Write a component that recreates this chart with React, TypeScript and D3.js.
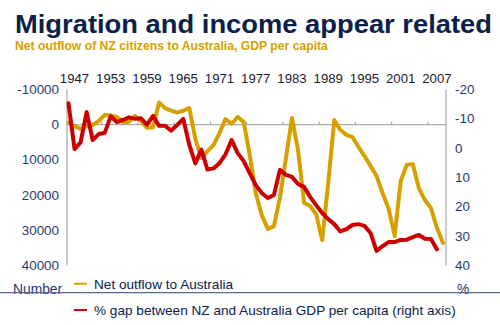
import React from "react";
import * as d3 from "d3";

const years = [1946,1947,1948,1949,1950,1951,1952,1953,1954,1955,1956,1957,1958,1959,1960,1961,1962,1963,1964,1965,1966,1967,1968,1969,1970,1971,1972,1973,1974,1975,1976,1977,1978,1979,1980,1981,1982,1983,1984,1985,1986,1987,1988,1989,1990,1991,1992,1993,1994,1995,1996,1997,1998,1999,2000,2001,2002,2003,2004,2005,2006,2007,2008];

const outflow = [-500,400,1200,400,100,-1000,-2800,-2600,-2200,-800,-800,-2500,-1000,900,700,-6300,-4700,-4000,-3400,-4000,-4700,4000,9500,7500,5800,2400,-1600,-200,-2200,-800,8600,19400,25700,29600,28800,20800,9500,-1900,7200,22200,23100,25400,32800,16500,-1300,1500,2900,3500,6300,8900,11700,14600,19400,23900,31600,16000,11400,11200,18000,21400,23700,29300,33600];

const gdpGap: (number | null)[] = [-15.3,0.3,-2,-12.3,-2.8,-4.8,-5.2,-10.9,-8.9,-9.6,-10.5,-10,-10.2,-8,-11,-7.6,-7.6,-6,-7.9,-10,-1.1,5.2,0.5,7.3,6.9,5.1,2.1,-2.8,1.7,4.4,8.5,12.6,15.3,17,16,7.4,9.1,9.8,12.2,13.2,16.6,19.4,22.1,24.2,25.9,28.4,27.6,26.2,25.9,26.5,28.9,35,33.4,32,32,31.3,31.2,30.3,29.6,30.9,31,34.5,null];

const yearLabels = [1947,1953,1959,1965,1971,1977,1983,1989,1995,2001,2007];
const leftTicks = [-10000,0,10000,20000,30000,40000];
const rightTicks = [-20,-10,0,10,20,30,40];
const boundaryTicks = [1951.5,1957.5,1963.5,1969.5,1975.5,1981.5,1987.5,1993.5,1999.5,2005.5];

const GOLD = "#D6A000";
const RED = "#CC0000";
const NAVY = "#0B2149";
const LABEL = "#1F3A73";
const FONT = "'Liberation Sans', Arial, sans-serif";

export default function App() {
  const top = 89.5, bottom = 265.5, left = 67, right = 446;
  const x = d3.scaleLinear().domain([1946, 2008]).range([68.5, 443]);
  const yL = d3.scaleLinear().domain([-10000, 40000]).range([top, bottom]);
  const yR = d3.scaleLinear().domain([-20, 40]).range([top, bottom]);

  const goldLine = d3.line<number>()
    .x((_, i) => x(years[i]))
    .y((d) => yL(d))(outflow) as string;

  const redLine = d3.line<number | null>()
    .defined((d) => d !== null)
    .x((_, i) => x(years[i]))
    .y((d) => yR(d as number))(gdpGap) as string;

  const zeroY = yL(0);

  return (
    <svg width={500} height={325} style={{ position: "absolute", left: 0, top: 0, background: "#fff" }} fontFamily={FONT}>
      <text x={15} y={32.5} fontSize={26.5} fontWeight="bold" fill={NAVY} textLength={477} lengthAdjust="spacingAndGlyphs">Migration and income appear related</text>
      <text x={15} y={50} fontSize={12.2} fontWeight="bold" fill={GOLD}>Net outflow of NZ citizens to Australia, GDP per capita</text>

      {yearLabels.map((yr) => (
        <text key={yr} x={x(yr)} y={83} fontSize={13.2} textAnchor="middle" fill="#1a1a2e">{yr}</text>
      ))}

      {leftTicks.map((v) => (
        <text key={v} x={59} y={yL(v) + 4.5} fontSize={13.4} textAnchor="end" fill={LABEL}>{v}</text>
      ))}
      {rightTicks.map((v) => (
        <text key={v} x={455} y={yR(v) + 4.5} fontSize={13.4} textAnchor="start" fill={LABEL}>{v}</text>
      ))}

      <line x1={left} x2={left} y1={top} y2={bottom} stroke="#999" strokeWidth={1} />
      <line x1={right} x2={right} y1={top} y2={bottom} stroke="#999" strokeWidth={1} />
      <line x1={left} x2={right} y1={zeroY} y2={zeroY} stroke="#999" strokeWidth={1} />
      {boundaryTicks.map((b) => (
        <line key={b} x1={x(b)} x2={x(b)} y1={zeroY} y2={zeroY - 3} stroke="#999" strokeWidth={1} />
      ))}

      <path d={goldLine} fill="none" stroke={GOLD} strokeWidth={4} strokeLinejoin="round" strokeLinecap="round" />
      <path d={redLine} fill="none" stroke={RED} strokeWidth={4} strokeLinejoin="round" strokeLinecap="round" />

      <text x={13} y={293.5} fontSize={13.8} fill={LABEL}>Number</text>
      <text x={457} y={293.5} fontSize={13.8} fill={LABEL}>%</text>
      <line x1={0} x2={500} y1={292.7} y2={292.7} stroke="#5B6A88" strokeWidth={1.3} />

      <line x1={74} x2={87} y1={283.7} y2={283.7} stroke={GOLD} strokeWidth={2} />
      <text x={94} y={289} fontSize={13.6} fill={NAVY}>Net outflow to Australia</text>
      <line x1={74} x2={87} y1={310} y2={310} stroke={RED} strokeWidth={2} />
      <text x={94} y={314.5} fontSize={13.6} fill={NAVY}>% gap between NZ and Australia GDP per capita (right axis)</text>
    </svg>
  );
}
